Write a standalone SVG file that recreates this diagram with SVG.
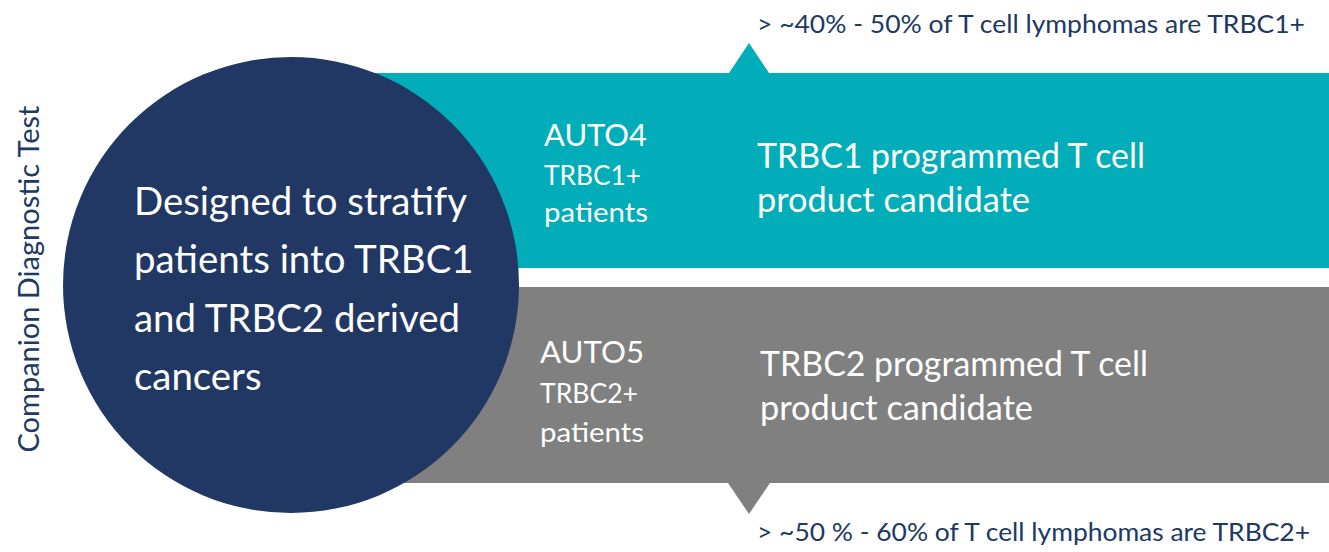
<svg xmlns="http://www.w3.org/2000/svg" width="1329" height="552" viewBox="0 0 1329 552">
<style>
.t{font-family:Lato,"Open Sans","Liberation Sans",sans-serif;fill:#fff}
.n{font-family:Lato,"Open Sans","Liberation Sans",sans-serif;fill:#203864}
</style>
<rect width="1329" height="552" fill="#fff"/>
<g id="band-teal">
<rect x="290" y="73" width="1039" height="195" fill="#00ADB8"/>
<polygon points="729,73 749,43 769,73" fill="#00ADB8"/>
<text class="t" x="544" y="146" font-size="31" textLength="103" lengthAdjust="spacingAndGlyphs">AUTO4</text>
<text class="t" x="544" y="185" font-size="26" textLength="97" lengthAdjust="spacingAndGlyphs">TRBC1+</text>
<text class="t" x="544" y="222" font-size="27" textLength="104" lengthAdjust="spacingAndGlyphs">patients</text>
<text class="t" x="757" y="168" font-size="34" textLength="388" lengthAdjust="spacingAndGlyphs">TRBC1 programmed T cell</text>
<text class="t" x="757" y="212" font-size="34" textLength="273" lengthAdjust="spacingAndGlyphs">product candidate</text>
</g>
<g id="band-gray">
<rect x="290" y="287" width="1039" height="196" fill="#808080"/>
<polygon points="728,483 749,514 770,483" fill="#808080"/>
<text class="t" x="540" y="363" font-size="31" textLength="104" lengthAdjust="spacingAndGlyphs">AUTO5</text>
<text class="t" x="540" y="403" font-size="26" textLength="98" lengthAdjust="spacingAndGlyphs">TRBC2+</text>
<text class="t" x="540" y="442" font-size="27" textLength="104" lengthAdjust="spacingAndGlyphs">patients</text>
<text class="t" x="760" y="376" font-size="34" textLength="388" lengthAdjust="spacingAndGlyphs">TRBC2 programmed T cell</text>
<text class="t" x="760" y="420" font-size="34" textLength="273" lengthAdjust="spacingAndGlyphs">product candidate</text>
</g>
<g id="circle">
<circle cx="291" cy="285" r="228" fill="#213864"/>
<text class="t" x="134" y="215" font-size="38.4">Designed to stratify</text>
<text class="t" x="134" y="273" font-size="38.4">patients into TRBC1</text>
<text class="t" x="134" y="332" font-size="38.4">and TRBC2 derived</text>
<text class="t" x="134" y="390" font-size="38.4">cancers</text>
</g>
<g id="labels">
<text class="n" x="757" y="33" font-size="25" textLength="548" lengthAdjust="spacingAndGlyphs">&gt; ~40% - 50% of T cell lymphomas are TRBC1+</text>
<text class="n" x="757" y="541" font-size="25" textLength="553" lengthAdjust="spacingAndGlyphs">&gt; ~50 % - 60% of T cell lymphomas are TRBC2+</text>
<text class="n" transform="translate(39,279) rotate(-90)" text-anchor="middle" font-size="28" textLength="347" lengthAdjust="spacingAndGlyphs">Companion Diagnostic Test</text>
</g>
<g id="connectors"/>
</svg>
